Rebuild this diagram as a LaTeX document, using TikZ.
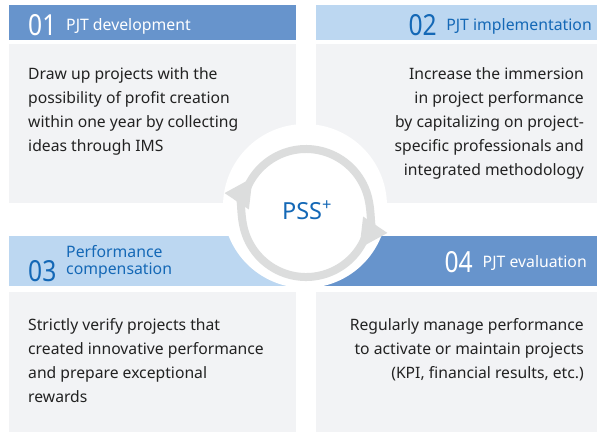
\documentclass[tikz,border=0pt]{standalone}
\usepackage{fontspec}
\usepackage{graphicx}
\setmainfont{Noto Sans}
\usetikzlibrary{arrows.meta}

\definecolor{hdark}{HTML}{6794CC}
\definecolor{hlight}{HTML}{BCD7F1}
\definecolor{bodygray}{HTML}{F2F3F5}
\definecolor{ringgray}{HTML}{DCDDDD}
\definecolor{txtblue}{HTML}{1468B6}
\definecolor{txtdark}{HTML}{222222}

\newcommand{\stepnum}[1]{\scalebox{0.85}[1]{#1}}

\tikzset{
  numtext/.style={inner sep=0pt, font=\fontsize{29}{29}\selectfont},
  headtext/.style={inner sep=0pt, font=\fontsize{15.8}{17}\selectfont},
  bodytext/.style={inner sep=0pt, text=txtdark, font=\fontsize{15.7}{24}\selectfont},
  ring/.style={draw=ringgray, line width=8pt},
}

\begin{document}
\begin{tikzpicture}[x=1pt, y=-1pt]
        \useasboundingbox (0,0) rectangle (597,432);

        % panels
        \fill[bodygray] (9,44) rectangle (296,203);
        \fill[bodygray] (316,44) rectangle (597,203);
        \fill[bodygray] (9,292) rectangle (296,432);
        \fill[bodygray] (316,292) rectangle (597,432);

        % headers
        \fill[hdark] (9,5) rectangle (296,40);
        \fill[hlight] (316,5) rectangle (597,40);
        \fill[hlight] (9,236) rectangle (306,286);
        \fill[hdark] (306,236) rectangle (597,286);

        % centre
        \fill[white] (305,206) circle[radius=82];
        \coordinate (c) at (306,213);
        \draw[ring, -{Triangle[length=29pt,width=27pt]}] (c) ++(15:64) arc[start angle=15, end angle=214, radius=64];
        \draw[ring, -{Triangle[length=29pt,width=27pt]}] (c) ++(195:64) arc[start angle=195, end angle=394, radius=64];
        \node[inner sep=0pt, text=txtblue, font=\fontsize{23.5}{23.5}\selectfont] (pss) at (307,210) {PSS\textsuperscript{+}};

        % header texts
        \node[numtext, text=white, anchor=base west] (n1) at (28,35) {\stepnum{01}};
        \node[headtext, text=white, anchor=base west] (h1) at (66,30) {PJT development};
        \node[numtext, text=txtblue, anchor=base east] (n2) at (437,35) {\stepnum{02}};
        \node[headtext, text=txtblue, anchor=base east] (h2) at (592,30) {PJT implementation};
        \node[numtext, text=txtblue, anchor=base west] (n3) at (28,281) {\stepnum{03}};
        \node[headtext, text=txtblue, anchor=west, align=left] (h3) at (66,262) {Performance\\compensation};
        \node[numtext, text=white, anchor=base east] (n4) at (473,272) {\stepnum{04}};
        \node[headtext, text=white, anchor=base east] (h4) at (587,267) {PJT evaluation};

        % body texts
        \node[bodytext, anchor=north west, align=left] (b1) at (28,67)
          {Draw up projects with the\\possibility of profit creation\\within one year by collecting\\ideas through IMS};
        \node[bodytext, anchor=north east, align=right] (b2) at (584,67)
          {Increase the immersion\\in project performance\\by capitalizing on project-\\specific professionals and\\integrated methodology};
        \node[bodytext, anchor=north west, align=left] (b3) at (28,318)
          {Strictly verify projects that\\created innovative performance\\and prepare exceptional\\rewards};
        \node[bodytext, anchor=north east, align=right] (b4) at (584,318)
          {Regularly manage performance\\to activate or maintain projects\\(KPI, financial results, etc.)};
      \end{tikzpicture}
\end{document}
